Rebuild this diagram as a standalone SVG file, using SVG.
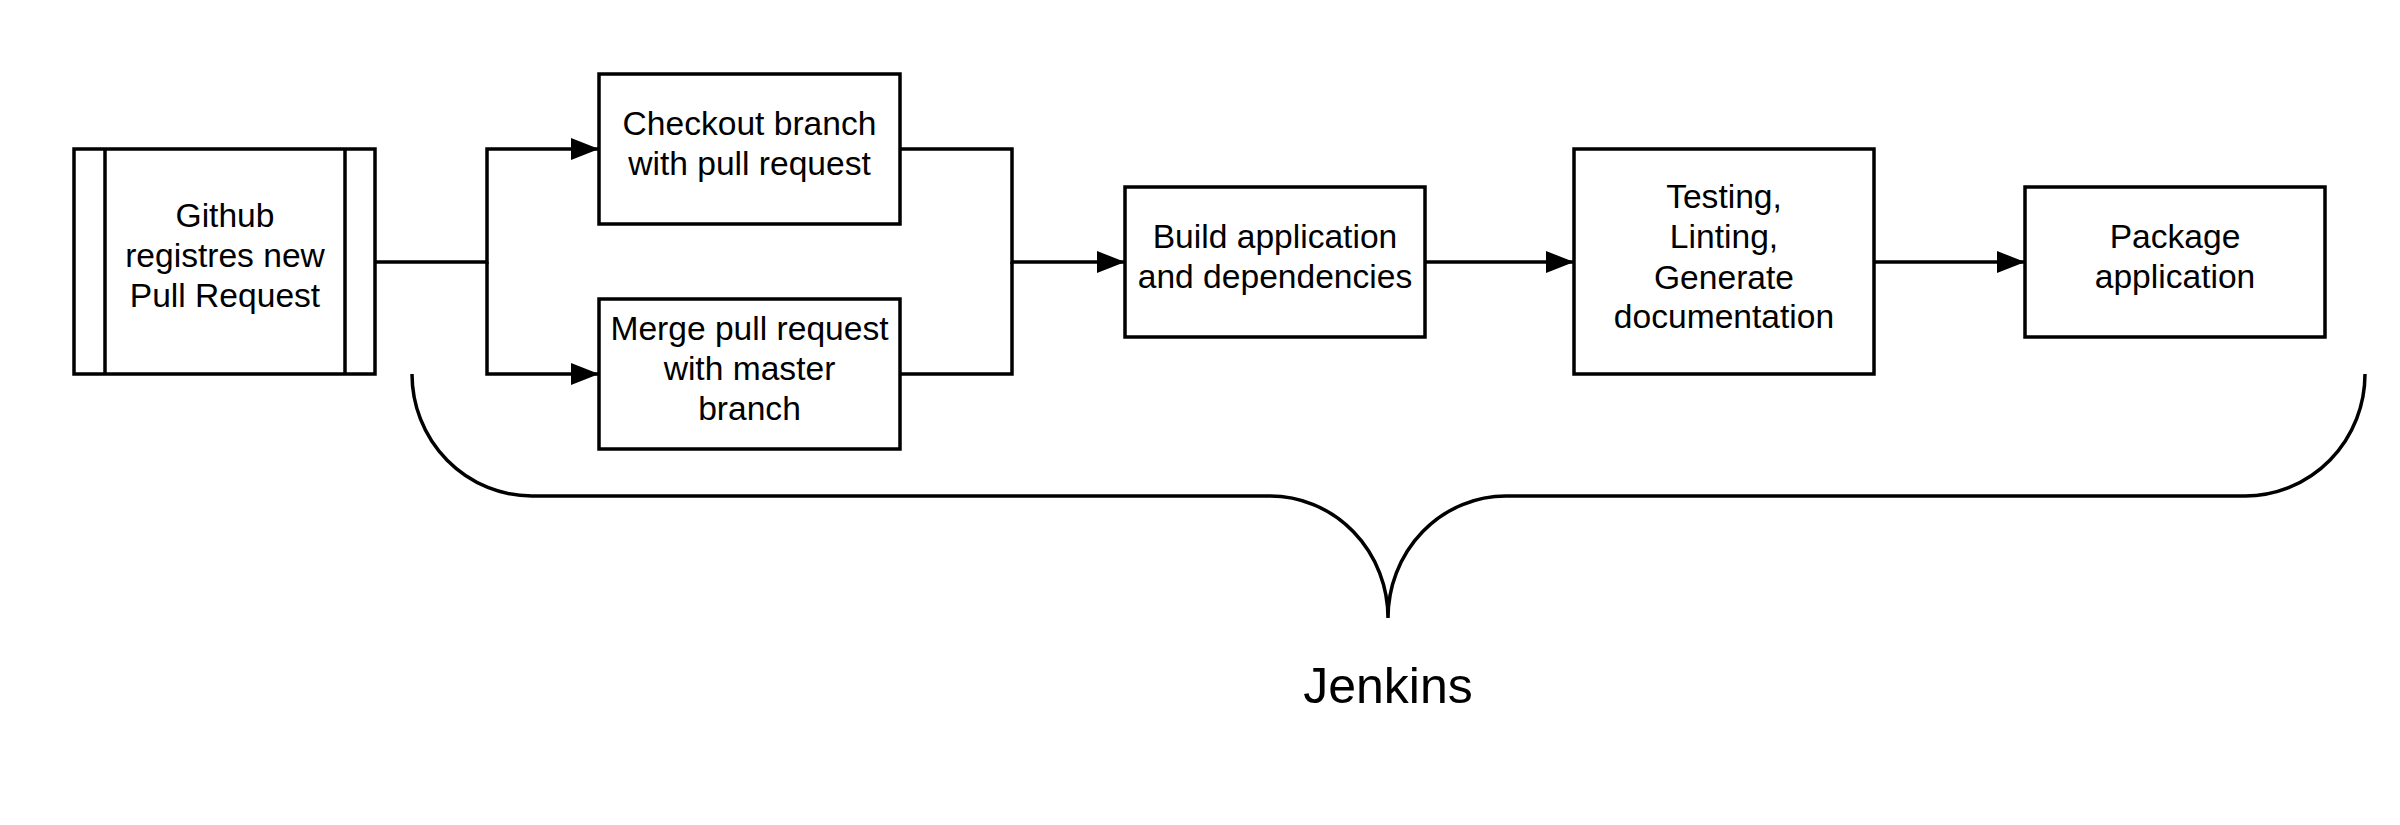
<svg xmlns="http://www.w3.org/2000/svg" width="2400" height="825" viewBox="0 0 2400 825">
  <defs>
    <style>
      .box { fill: #ffffff; stroke: #000000; stroke-width: 3.5; }
      .line { fill: none; stroke: #000000; stroke-width: 3.5; }
      .lbl { font-family: "Liberation Sans", Arial, sans-serif; font-size: 33.6px; fill: #000000; text-anchor: middle; }
      .big { font-family: "Liberation Sans", Arial, sans-serif; font-size: 50px; fill: #000000; text-anchor: middle; }
    </style>
    <marker id="arrow" markerUnits="userSpaceOnUse" markerWidth="28" markerHeight="22" refX="28" refY="11" orient="auto">
      <path d="M0,0 L28,11 L0,22 Z" fill="#000000"/>
    </marker>
  </defs>
  <rect width="2400" height="825" fill="#ffffff"/>

  <g id="connectors">
    <path class="line" d="M375,262 H487 V149 H599" marker-end="url(#arrow)"/>
    <path class="line" d="M487,262 V374 H599" marker-end="url(#arrow)"/>
    <path class="line" d="M900,149 H1012 V262 H1125" marker-end="url(#arrow)"/>
    <path class="line" d="M900,374 H1012 V262"/>
    <path class="line" d="M1425,262 H1574" marker-end="url(#arrow)"/>
    <path class="line" d="M1874,262 H2025" marker-end="url(#arrow)"/>
  </g>

  <g id="github">
    <rect class="box" x="74" y="149" width="301" height="225"/>
    <line class="line" x1="105" y1="149" x2="105" y2="374"/>
    <line class="line" x1="345" y1="149" x2="345" y2="374"/>
    <text class="lbl" x="225" y="227">Github</text>
    <text class="lbl" x="225" y="267">registres new</text>
    <text class="lbl" x="225" y="307">Pull Request</text>
  </g>

  <g id="checkout">
    <rect class="box" x="599" y="74" width="301" height="150"/>
    <text class="lbl" x="749.5" y="135">Checkout branch</text>
    <text class="lbl" x="749.5" y="175">with pull request</text>
  </g>

  <g id="merge">
    <rect class="box" x="599" y="299" width="301" height="150"/>
    <text class="lbl" x="749.5" y="340">Merge pull request</text>
    <text class="lbl" x="749.5" y="380">with master</text>
    <text class="lbl" x="749.5" y="420">branch</text>
  </g>

  <g id="build">
    <rect class="box" x="1125" y="187" width="300" height="150"/>
    <text class="lbl" x="1275" y="248">Build application</text>
    <text class="lbl" x="1275" y="288">and dependencies</text>
  </g>

  <g id="testing">
    <rect class="box" x="1574" y="149" width="300" height="225"/>
    <text class="lbl" x="1724" y="208">Testing,</text>
    <text class="lbl" x="1724" y="248">Linting,</text>
    <text class="lbl" x="1724" y="289">Generate</text>
    <text class="lbl" x="1724" y="328">documentation</text>
  </g>

  <g id="package">
    <rect class="box" x="2025" y="187" width="300" height="150"/>
    <text class="lbl" x="2175" y="248">Package</text>
    <text class="lbl" x="2175" y="288">application</text>
  </g>

  <g id="jenkins">
    <path class="line" d="M412,374 A120,122 0 0 0 532,496 H1270 A118,122 0 0 1 1388,618 A118,122 0 0 1 1506,496 H2245 A120,122 0 0 0 2365,374"/>
    <text class="big" x="1388" y="703">Jenkins</text>
  </g>
</svg>
